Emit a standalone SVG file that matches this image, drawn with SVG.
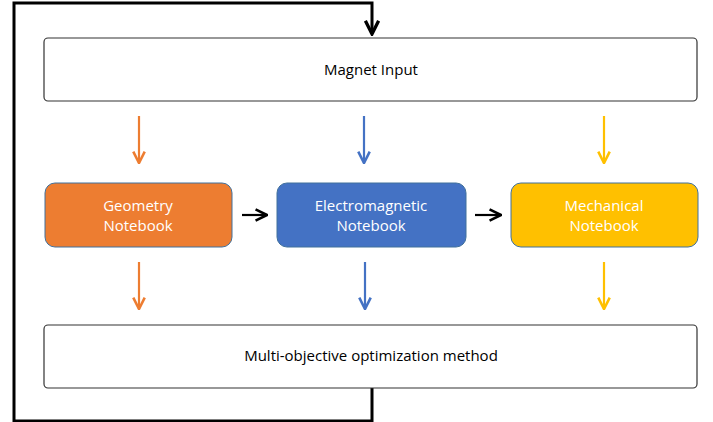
<svg xmlns="http://www.w3.org/2000/svg" width="713" height="422" viewBox="0 0 713 422">
<defs>
<style>
.wide{fill:#fff;stroke:#333;stroke-width:1.2}
.nb{stroke:#41719C;stroke-width:1}
.t{font-family:"Open Sans","Liberation Sans",sans-serif;font-size:15px;text-anchor:middle}
.w{fill:#fff}
.k{fill:#000}
.loop{fill:none;stroke:#000;stroke-width:3}
.ar{fill:none;stroke-width:2.2}
</style>
<marker id="hk" viewBox="0 0 10 10" refX="9" refY="5" markerWidth="5.5" markerHeight="5.5" markerUnits="strokeWidth" orient="auto"><path d="M1,1 L9,5 L1,9" fill="none" stroke="#000" stroke-width="2"/></marker>
<marker id="hk2" viewBox="0 0 10 10" refX="9" refY="5" markerWidth="6.5" markerHeight="6.5" markerUnits="strokeWidth" orient="auto"><path d="M1,1 L9,5 L1,9" fill="none" stroke="#000" stroke-width="1.8"/></marker>
<marker id="ho" viewBox="0 0 10 10" refX="9" refY="5" markerWidth="6.5" markerHeight="6.5" markerUnits="strokeWidth" orient="auto"><path d="M1,1 L9,5 L1,9" fill="none" stroke="#ED7D31" stroke-width="1.8"/></marker>
<marker id="hb" viewBox="0 0 10 10" refX="9" refY="5" markerWidth="6.5" markerHeight="6.5" markerUnits="strokeWidth" orient="auto"><path d="M1,1 L9,5 L1,9" fill="none" stroke="#4472C4" stroke-width="1.8"/></marker>
<marker id="hy" viewBox="0 0 10 10" refX="9" refY="5" markerWidth="6.5" markerHeight="6.5" markerUnits="strokeWidth" orient="auto"><path d="M1,1 L9,5 L1,9" fill="none" stroke="#FFC000" stroke-width="1.8"/></marker>
</defs>
<g id="connectors">
<path class="loop" d="M372,388 V421 H14 V3 H372 V34" marker-end="url(#hk)"/>
<line class="ar" stroke="#ED7D31" x1="139" y1="116" x2="139" y2="163" marker-end="url(#ho)"/>
<line class="ar" stroke="#4472C4" x1="364" y1="116" x2="364" y2="163" marker-end="url(#hb)"/>
<line class="ar" stroke="#FFC000" x1="604" y1="116" x2="604" y2="163" marker-end="url(#hy)"/>
<line class="ar" stroke="#ED7D31" x1="139" y1="262" x2="139" y2="309" marker-end="url(#ho)"/>
<line class="ar" stroke="#4472C4" x1="365" y1="262" x2="365" y2="309" marker-end="url(#hb)"/>
<line class="ar" stroke="#FFC000" x1="604" y1="262" x2="604" y2="309" marker-end="url(#hy)"/>
<line class="ar" stroke="#000" x1="242" y1="215" x2="267" y2="215" marker-end="url(#hk2)"/>
<line class="ar" stroke="#000" x1="475" y1="215" x2="501" y2="215" marker-end="url(#hk2)"/>
</g>
<g id="magnet-input">
<rect class="wide" x="44" y="38" width="653" height="63" rx="4"/>
<text class="t k" x="371" y="75">Magnet Input</text>
</g>
<g id="geometry">
<rect class="nb" fill="#ED7D31" x="45" y="183" width="187" height="64" rx="10"/>
<text class="t w" x="138" y="211">Geometry</text>
<text class="t w" x="138" y="231">Notebook</text>
</g>
<g id="electromagnetic">
<rect class="nb" fill="#4472C4" x="277" y="183" width="189" height="64" rx="10"/>
<text class="t w" x="371" y="211">Electromagnetic</text>
<text class="t w" x="371" y="231">Notebook</text>
</g>
<g id="mechanical">
<rect class="nb" fill="#FFC000" x="511" y="183" width="187" height="64" rx="10"/>
<text class="t w" x="604" y="211">Mechanical</text>
<text class="t w" x="604" y="231">Notebook</text>
</g>
<g id="optimization">
<rect class="wide" x="44" y="325" width="653" height="63" rx="4"/>
<text class="t k" x="371" y="361">Multi-objective optimization method</text>
</g>
</svg>
